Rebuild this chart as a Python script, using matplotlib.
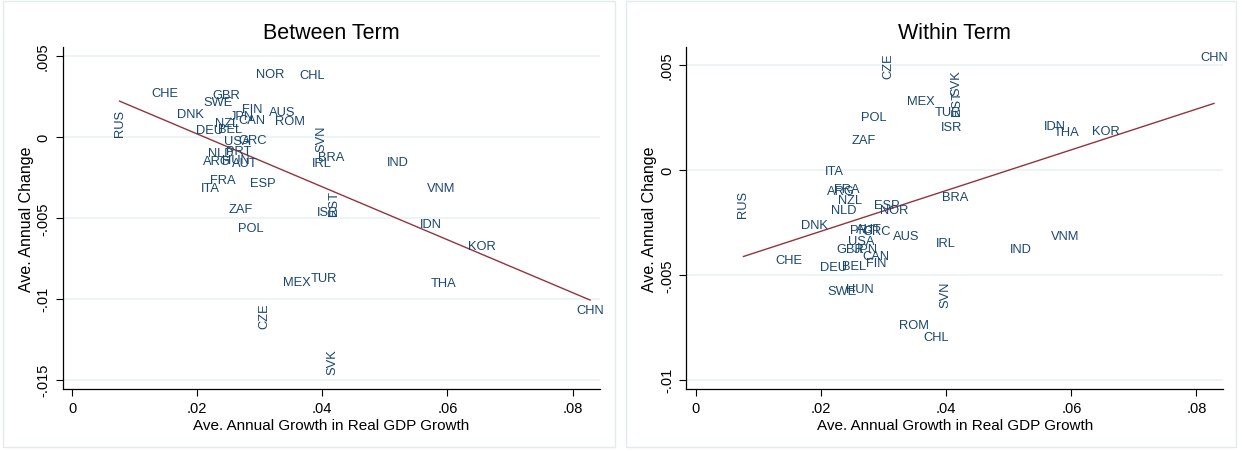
import matplotlib.pyplot as plt
from matplotlib.patches import Rectangle

plt.rcParams['font.family'] = ['Liberation Sans', 'DejaVu Sans']

countries = ['NOR', 'CHL', 'CHE', 'GBR', 'SWE', 'DNK', 'FIN', 'AUS', 'JPN', 'CAN',
             'ROM', 'NZL', 'DEU', 'BEL', 'USA', 'GRC', 'SVN', 'NLD', 'PRT', 'ARG',
             'HUN', 'AUT', 'BRA', 'IRL', 'IND', 'FRA', 'ITA', 'ESP', 'VNM', 'ZAF',
             'EST', 'ISR', 'POL', 'IDN', 'KOR', 'MEX', 'TUR', 'THA', 'CZE', 'SVK',
             'CHN', 'RUS']

gdp_growth = [0.0317, 0.0384, 0.0148, 0.0247, 0.0233, 0.0189, 0.0288, 0.0336, 0.0272, 0.0288,
              0.0348, 0.0247, 0.0220, 0.0253, 0.0264, 0.0289, 0.0398, 0.0237, 0.0266, 0.0231,
              0.0262, 0.0276, 0.0414, 0.0400, 0.0520, 0.0241, 0.0221, 0.0305, 0.0590, 0.0269,
              0.0418, 0.0409, 0.0285, 0.0574, 0.0655, 0.0359, 0.0403, 0.0593, 0.0307, 0.0416,
              0.0828, 0.0076]

between_change = [0.00387, 0.00381, 0.00270, 0.00257, 0.00214, 0.00142, 0.00173, 0.00154, 0.00126, 0.00105,
                  0.00099, 0.00085, 0.00043, 0.00049, -0.00027, -0.00019, -0.00004, -0.00099, -0.00090, -0.00152,
                  -0.00144, -0.00160, -0.00123, -0.00160, -0.00156, -0.00267, -0.00317, -0.00284, -0.00315, -0.00446,
                  -0.00405, -0.00467, -0.00564, -0.00539, -0.00673, -0.00895, -0.00870, -0.00901, -0.01100, -0.01383,
                  -0.01068, 0.00089]

within_change = [-0.00190, -0.00795, -0.00429, -0.00375, -0.00576, -0.00262, -0.00444, -0.00314, -0.00378, -0.00413,
                 -0.00738, -0.00146, -0.00465, -0.00457, -0.00341, -0.00294, -0.00589, -0.00190, -0.00286, -0.00102,
                 -0.00567, -0.00283, -0.00129, -0.00348, -0.00376, -0.00092, -0.00006, -0.00167, -0.00314, 0.00144,
                 0.00320, 0.00205, 0.00252, 0.00206, 0.00184, 0.00329, 0.00276, 0.00178, 0.00498, 0.00416,
                 0.00538, -0.00160]

vertical_labels = ['RUS', 'SVN', 'EST', 'CZE', 'SVK']

# fitted line values at the smallest and largest growth
between_fit = [0.00220, -0.01008]
within_fit = [-0.00413, 0.00316]

x_ticks = [0, 0.02, 0.04, 0.06, 0.08]
x_tick_labels = ['0', '.02', '.04', '.06', '.08']
between_yticks = [0.005, 0, -0.005, -0.01, -0.015]
between_ytick_labels = ['.005', '0', '-.005', '-.01', '-.015']
within_yticks = [0.005, 0, -0.005, -0.01]
within_ytick_labels = ['.005', '0', '-.005', '-.01']

W, H = 1242, 452
fig = plt.figure(figsize=(W / 100, H / 100), dpi=100)

label_col = '#1a476f'
line_col = '#90353b'
grid_col = '#eaf2f3'

# panel frames
for x0, x1 in [(2.5, 615), (626, 1236)]:
    fig.patches.append(Rectangle((x0 / W, 4.5 / H), (x1 - x0) / W, 446 / H,
                                 transform=fig.transFigure, fill=False,
                                 edgecolor='#e3ebee', linewidth=1))

panels = [
    ('Between Term', between_change, between_fit, between_yticks, between_ytick_labels,
     (-0.01557, 0.00556), 62.5),
    ('Within Term', within_change, within_fit, within_yticks, within_ytick_labels,
     (-0.01044, 0.00586), 686.4),
]

for title, yvals, fit, yt, ytl, ylim, left_px in panels:
    ax = fig.add_axes([left_px / W, (H - 390) / H, 537 / W, (390 - 47.7) / H])
    ax.set_xlim(-0.00152, 0.0843)
    ax.set_ylim(*ylim)

    for yy in yt:
        ax.axhline(yy, color=grid_col, lw=1.2, zorder=0)

    for name, x, y in zip(countries, gdp_growth, yvals):
        rot = 90 if name in vertical_labels else 0
        ax.text(x, y, name, color=label_col, fontsize=9.3, rotation=rot,
                ha='center', va='center')

    fx = [min(gdp_growth), max(gdp_growth)]
    ax.plot(fx, fit, color=line_col, lw=1)

    ax.set_xticks(x_ticks)
    ax.set_xticklabels(x_tick_labels)
    ax.set_yticks(yt)
    ax.set_yticklabels(ytl, rotation=90, va='center')
    ax.tick_params(direction='out', length=5, width=0.8, labelsize=10.5, pad=4)

    for side in ['top', 'right']:
        ax.spines[side].set_visible(False)
    for side in ['left', 'bottom']:
        ax.spines[side].set_linewidth(0.9)

    ax.set_title(title, fontsize=15.5, pad=6)
    ax.set_xlabel('Ave. Annual Growth in Real GDP Growth', fontsize=11, labelpad=2)
    ax.set_ylabel('Ave. Annual Change', fontsize=11.5)
    ax.yaxis.set_label_coords(-0.054, 0.5)

fig.savefig('out.png', dpi=100)
